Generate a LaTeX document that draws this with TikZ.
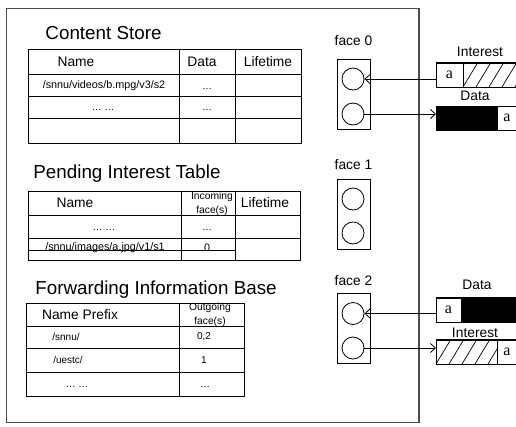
\documentclass[tikz,border=0pt]{standalone}
\usepackage{fontspec}
\setmainfont{Liberation Sans}
\newfontfamily\serifa{Liberation Serif}
\usetikzlibrary{arrows.meta}
\begin{document}
\begin{tikzpicture}[x=1pt,y=-1pt,
  outer/.style={draw=black!70, line width=1.3pt},
  tab/.style={draw=black, line width=0.9pt},
  title/.style={font=\fontsize{18.8}{22}\selectfont, inner sep=0pt},
  hdr/.style={font=\fontsize{13.8}{16}\selectfont, inner sep=0pt},
  cell/.style={font=\fontsize{10.8}{12}\selectfont, inner sep=0pt},
  fcell/.style={font=\fontsize{10}{12}\selectfont, inner sep=0pt},
  dots/.style={font=\fontsize{10}{12}\selectfont, inner sep=0pt, anchor=base},
  tiny/.style={font=\fontsize{10.3}{13.5}\selectfont, inner sep=0pt, align=center},
  lbl/.style={font=\fontsize{13.8}{16}\selectfont, inner sep=0pt},
  aa/.style={font=\serifa\fontsize{16}{18}\selectfont, inner sep=0pt},
  facebox/.style={draw, line width=0.9pt, minimum width=33pt, minimum height=70pt, inner sep=0pt},
  port/.style={draw, circle, line width=0.8pt, minimum size=22pt, inner sep=0pt},
  pkt/.style={draw, line width=0.8pt, minimum width=81pt, minimum height=24pt, inner sep=0pt, anchor=west},
  arr/.style={line width=0.8pt, -{Straight Barb[length=5pt,width=9pt]}}
]
\clip (0,0) rectangle (516,426);
\fill[white] (0,0) rectangle (516,426);
\draw[outer] (6.5,8.5) rectangle (419,422.5);

% ---------- Content Store ----------
\node[title] (cst) at (103.5,33) {Content Store};
\draw[tab] (28,49) rectangle (301,143);
\draw[tab] (28,74) -- (301,74) (28,96) -- (301,96) (28,118) -- (301,118)
           (179,49) -- (179,143) (235,49) -- (235,143);
\node[hdr] (csn) at (76,62) {Name};
\node[hdr] (csd) at (202,62) {Data};
\node[hdr] (csl) at (268,62) {Lifetime};
\node[cell] (cs1) at (104,85.5) {/snnu/videos/b.mpg/v3/s2};
\node[dots] (cs1d) at (207,89) {…};
\node[dots] (cs2n) at (103,110) {… …};
\node[dots] (cs2d) at (207,110) {…};

% ---------- PIT ----------
\node[title] (pitt) at (127,174) {Pending Interest Table};
\draw[tab] (28,191) rectangle (300,260);
\draw[tab] (28,215) -- (300,215) (28,238) -- (300,238) (28,250) -- (235,250)
           (181,191) -- (181,260) (235,191) -- (235,260);
\node[hdr] (pitn) at (75,203) {Name};
\node[tiny] (piti) at (212,204) {Incoming\\face(s)};
\node[hdr] (pitl) at (265,203) {Lifetime};
\node[dots] (pit1n) at (104,230) {… …};
\node[dots] (pit1d) at (207,230) {…};
\node[cell] (pit2) at (105,248) {/snnu/images/a.jpg/v1/s1};
\node[cell] (pit2f) at (207,248) {0};

% ---------- FIB ----------
\node[title] (fibt) at (156,290) {Forwarding Information Base};
\draw[tab] (26,303) rectangle (244,396);
\draw[tab] (26,326) -- (244,326) (26,348) -- (244,348) (26,372) -- (244,372)
           (179,303) -- (179,396);
\node[hdr] (fibn) at (80,315) {Name Prefix};
\node[tiny] (fibo) at (210,315) {Outgoing\\face(s)};
\node[fcell] (fib1) at (66,337) {/snnu/};
\node[fcell] (fib1f) at (204,337) {0,2};
\node[fcell] (fib2) at (68,360) {/uestc/};
\node[fcell] (fib2f) at (204,360) {1};
\node[dots] (fib3) at (77,387) {… …};
\node[dots] (fib3f) at (205,387) {…};

% ---------- Faces ----------
\node[lbl] (fl0) at (353.5,41) {face 0};
\node[facebox] (f0) at (353.5,94) {};
\node[port] (c0a) at (353,79) {};
\node[port] (c0b) at (353,114) {};

\node[lbl] (fl1) at (353.5,165) {face 1};
\node[facebox] (f1) at (353.5,214.5) {};
\node[port] (c1a) at (353,199) {};
\node[port] (c1b) at (353,233) {};

\node[lbl] (fl2) at (353.5,281) {face 2};
\node[facebox] (f2) at (353.5,328.5) {};
\node[port] (c2a) at (353,313.5) {};
\node[port] (c2b) at (353,348) {};

% ---------- Packets face 0 ----------
\node[lbl] (pl0i) at (480,52) {Interest};
\node[pkt] (p0i) at (436,75) {};
\begin{scope}
  \clip (463,63) rectangle (517,87);
  \foreach \i in {-13,0,...,65} \draw[line width=0.7pt] (463+\i,87) -- ++(14.5,-24);
\end{scope}
\draw[line width=0.8pt] (463,63) -- (463,87);
\draw[line width=0.8pt] (p0i.north west) rectangle (p0i.south east);
\node[aa] (a0i) at (449.5,75) {a};

\node[lbl] (pl0d) at (475,96) {Data};
\node[pkt] (p0d) at (436,118) {};
\fill[black] (436,106) rectangle (497,130);
\draw[line width=0.8pt] (497,106) -- (497,130);
\node[aa] (a0d) at (507,118) {a};

% ---------- Packets face 2 ----------
\node[lbl] (pl2d) at (477,285) {Data};
\node[pkt] (p2d) at (436,310) {};
\fill[black] (461,298) rectangle (517,322);
\draw[line width=0.8pt] (p2d.north west) rectangle (p2d.south east);
\draw[line width=0.8pt] (461,298) -- (461,322);
\node[aa] (a2d) at (448.5,310) {a};

\node[lbl] (pl2i) at (475,333) {Interest};
\node[pkt] (p2i) at (436,352) {};
\begin{scope}
  \clip (436,340) rectangle (497,364);
  \foreach \i in {-13,0,...,65} \draw[line width=0.7pt] (436+\i,364) -- ++(14.5,-24);
\end{scope}
\draw[line width=0.8pt] (497,340) -- (497,364);
\draw[line width=0.8pt] (p2i.north west) rectangle (p2i.south east);
\node[aa] (a2i) at (507,352) {a};

% ---------- Arrows ----------
\draw[arr] (c0a -| p0i.west) -- (c0a.east);
\draw[arr] (c0b.east) -- (c0b -| p0d.west);
\draw[arr] (c2a -| p2d.west) -- (c2a.east);
\draw[arr] (c2b.east) -- (c2b -| p2i.west);
\end{tikzpicture}
\end{document}
